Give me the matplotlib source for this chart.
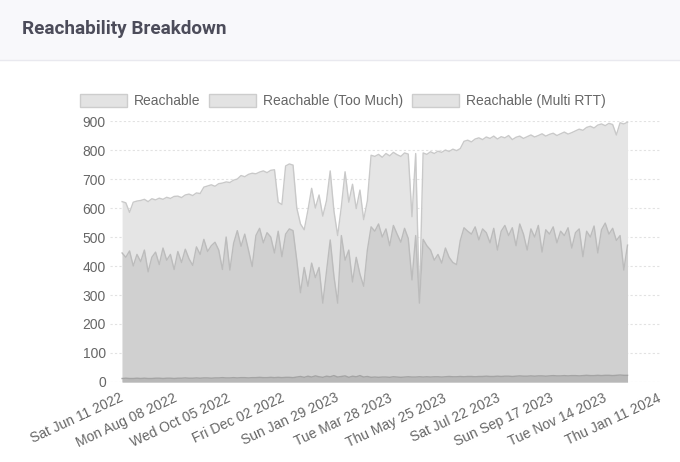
import pandas as pd
import numpy as np
import matplotlib.pyplot as plt
import matplotlib.transforms as mtransforms
from matplotlib.patches import Patch, Rectangle

plt.rcParams['font.family'] = ['Liberation Sans', 'DejaVu Sans']

# one sample every 4 days, starting Sat Jun 11 2022
start = '2022-06-11'
step_days = 4

reachable = [
    622, 618, 585, 620, 624, 626, 630, 622, 632, 628,
    634, 630, 637, 633, 640, 641, 636, 645, 648, 643,
    652, 650, 672, 676, 680, 675, 684, 686, 690, 688,
    696, 700, 712, 708, 716, 720, 718, 724, 728, 722,
    730, 732, 620, 612, 745, 752, 748, 600, 545, 525,
    592, 668, 600, 645, 572, 625, 728, 590, 505, 605,
    725, 620, 682, 598, 662, 560, 625, 782, 778, 785,
    775, 788, 780, 792, 784, 778, 790, 786, 570, 788,
    272, 790, 785, 794, 788, 796, 792, 800, 795, 803,
    798, 805, 830, 834, 828, 838, 842, 836, 845, 840,
    848, 838, 846, 842, 850, 836, 844, 848, 840, 846,
    852, 845, 850, 856, 848, 854, 858, 850, 856, 862,
    855, 860, 866, 872, 868, 878, 882, 876, 886, 890,
    884, 892, 888, 852, 894, 890, 896,
]

multi_rtt = [
    445, 430, 452, 400, 440, 415, 455, 380, 430, 448,
    405, 462, 420, 440, 388, 450, 412, 458, 425, 402,
    466, 440, 492, 450, 470, 482, 455, 388, 500, 386,
    478, 522, 468, 510, 455, 398, 505, 530, 480, 515,
    500, 445, 520, 432, 510, 528, 522, 420, 308, 395,
    330, 410, 360, 395, 272, 380, 490, 365, 272, 505,
    420, 455, 345, 430, 372, 330, 455, 535, 520, 545,
    500, 528, 470, 540, 510, 482, 530, 495, 352, 505,
    272, 492, 470, 455, 420, 440, 410, 462, 430, 412,
    405, 488, 532, 520, 510, 535, 490, 528, 515, 480,
    530, 455, 520, 540, 505, 532, 470, 545, 510, 455,
    528, 500, 540, 448, 525, 510, 535, 480, 520, 505,
    532, 462, 515, 528, 432, 520, 500, 538, 445, 525,
    548, 510, 530, 488, 505, 386, 472,
]

too_much = [
    12, 13, 12, 12, 13, 12, 13, 12, 12, 13,
    13, 12, 13, 13, 12, 13, 13, 14, 13, 13,
    14, 13, 14, 14, 13, 14, 14, 15, 14, 14,
    15, 14, 15, 15, 14, 15, 15, 16, 15, 15,
    16, 15, 16, 15, 16, 16, 15, 17, 19, 16,
    20, 17, 21, 18, 16, 20, 18, 22, 17, 19,
    21, 16, 20, 18, 22, 17, 19, 16, 17, 16,
    17, 17, 16, 18, 17, 16, 17, 18, 17, 17,
    18, 17, 18, 17, 18, 18, 17, 18, 19, 18,
    18, 19, 18, 19, 19, 18, 19, 19, 20, 19,
    19, 20, 19, 20, 20, 19, 20, 21, 20, 20,
    21, 20, 21, 21, 20, 21, 22, 21, 21, 22,
    21, 22, 22, 21, 22, 23, 22, 22, 23, 22,
    23, 23, 22, 23, 24, 23, 23,
]

tick_dates = ['2022-06-11', '2022-08-08', '2022-10-05', '2022-12-02',
              '2023-01-29', '2023-03-28', '2023-05-25', '2023-07-22',
              '2023-09-17', '2023-11-14', '2024-01-11']

labels = ['Reachable', 'Reachable (Too Much)', 'Reachable (Multi RTT)']

dates = pd.date_range(start, periods=len(reachable), freq=f'{step_days}D')
ticks = pd.to_datetime(tick_dates)

fig = plt.figure(figsize=(6.8, 4.62), dpi=100)
fig.patch.set_facecolor('white')

# page header band
fig.patches.append(Rectangle((0, 0.870), 1, 0.130, transform=fig.transFigure,
                             facecolor='#f8f8fb', edgecolor='none', zorder=0))
fig.lines.append(plt.Line2D([0, 1], [0.870, 0.870], transform=fig.transFigure,
                            color='#e9e9ef', lw=1))
fig.text(0.032, 0.937, 'Reachability Breakdown', fontsize=13.6, fontweight='bold',
         color='#4c4c5a', va='center', ha='left', family=['Roboto', 'DejaVu Sans'])

ax = fig.add_axes([0.1618, 0.1732, 0.8102, 0.5648])

ax.fill_between(dates, 0, reachable, color='#e5e5e5', lw=0, zorder=1)
ax.plot(dates, reachable, color='#c9c9c9', lw=1, zorder=2)
ax.fill_between(dates, 0, multi_rtt, color='#d0d0d0', lw=0, zorder=3)
ax.plot(dates, multi_rtt, color='#bcbcbc', lw=1, zorder=4)
ax.fill_between(dates, 0, too_much, color='#b8b8b8', lw=0, zorder=5)
ax.plot(dates, too_much, color='#a4a4a4', lw=1, zorder=6)

ax.set_ylim(0, 900)
ax.set_yticks(range(0, 901, 100))
ax.set_xlim(pd.Timestamp(start) - pd.Timedelta(days=13),
            pd.Timestamp(start) + pd.Timedelta(days=580))
ax.set_xticks(ticks)
ax.set_xticklabels([d.strftime('%a %b %d %Y') for d in ticks], rotation=25,
                   ha='right', va='center', rotation_mode='anchor', fontsize=10)
shift = mtransforms.ScaledTranslation(-0.04, 0, fig.dpi_scale_trans)
for lbl in ax.get_xticklabels():
    lbl.set_transform(lbl.get_transform() + shift)

ax.grid(axis='y', color='#e2e2e2', lw=0.8, linestyle=(0, (2, 2)), zorder=0)
ax.set_axisbelow(True)
for s in ax.spines.values():
    s.set_visible(False)
ax.tick_params(axis='both', length=0, colors='#666666')
ax.tick_params(axis='y', pad=3, labelsize=10)
ax.tick_params(axis='x', pad=11)

handles = [Patch(facecolor='#e3e3e3', edgecolor='#cdcdcd', lw=1) for _ in labels]
fig.legend(handles, labels, loc='center', bbox_to_anchor=(0.504, 0.781), ncol=3,
           frameon=False, fontsize=10, handlelength=3.4, handleheight=1.0,
           handletextpad=0.5, columnspacing=0.6, labelcolor='#666666')

plt.savefig('out.png', dpi=100)
